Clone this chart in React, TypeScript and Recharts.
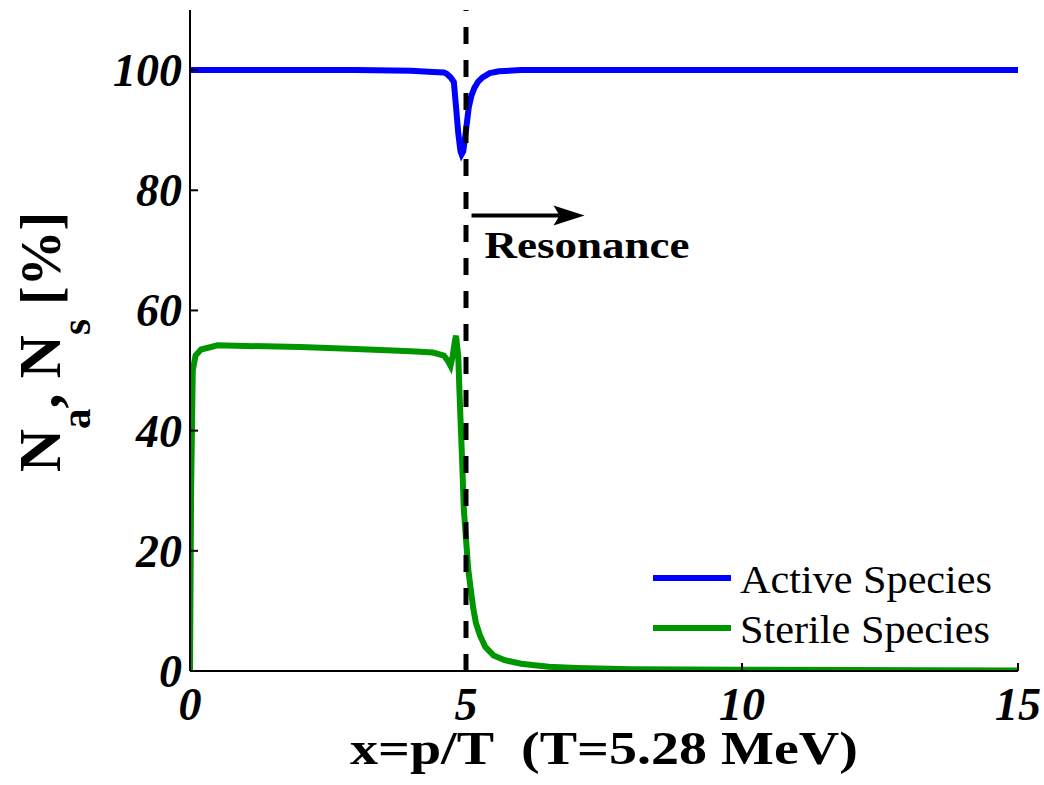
import React from 'react';
import {
  LineChart,
  Line,
  XAxis,
  YAxis,
  ReferenceLine,
  ReferenceDot,
  Legend,
} from 'recharts';

// values
const xTicks = [0, 5, 10, 15];
const yTicks = [0, 20, 40, 60, 80, 100];

const activeX = [0, 1, 2, 3, 4, 4.4, 4.6, 4.65, 4.72, 4.78, 4.82, 4.86, 4.9, 4.92, 4.95, 4.98, 5.02, 5.05, 5.1, 5.15, 5.22, 5.3, 5.43, 5.6, 6, 7, 10, 15];
const activeY = [100, 100, 100, 100, 99.9, 99.7, 99.6, 99.4, 98.8, 98.0, 93.8, 89.5, 86.5, 86, 86.5, 88.5, 91.5, 93.8, 95.8, 97.0, 98.1, 98.8, 99.5, 99.8, 100, 100, 100, 100];

const sterileX = [0, 0.02, 0.05, 0.1, 0.2, 0.5, 1, 2, 3, 4, 4.4, 4.6, 4.68, 4.72, 4.76, 4.8, 4.82, 4.86, 4.88, 4.9, 4.93, 4.96, 5.0, 5.04, 5.08, 5.13, 5.18, 5.25, 5.35, 5.5, 5.7, 6.0, 6.2, 6.5, 7, 8, 10, 12, 15];
const sterileY = [0, 30, 50, 52.5, 53.5, 54.2, 54.1, 53.9, 53.6, 53.2, 53.0, 52.5, 51.5, 50.8, 52.5, 55, 55.8, 52.3, 47, 42, 35, 27, 22, 17, 14, 10.5, 8, 6, 4, 2.6, 1.8, 1.2, 1.0, 0.7, 0.5, 0.3, 0.2, 0.15, 0.1];

const resonanceX = 5;
const arrowStart = { x: 5.1, y: 75.8 };

const activeData = activeX.map((x, i) => ({ x, y: activeY[i] }));
const sterileData = sterileX.map((x, i) => ({ x, y: sterileY[i] }));

const SERIF = '"Liberation Serif", "Times New Roman", serif';
const TICK_FONT = { fontFamily: SERIF, fontWeight: 'bold', fontStyle: 'italic', fontSize: 46 };

const BottomTick = (props: any) => {
  const { x, y, payload } = props;
  return (
    <g>
      <line x1={x} x2={x} y1={y} y2={y - 8} stroke="#000" strokeWidth={2} />
      <text x={x} y={y + 49} textAnchor="middle" fill="#000" {...TICK_FONT}>
        {payload.value}
      </text>
    </g>
  );
};

const TopTick = (props: any) => {
  const { x, y } = props;
  return <line x1={x} x2={x} y1={y} y2={y + 8} stroke="#000" strokeWidth={2} />;
};

const LeftTick = (props: any) => {
  const { x, y, payload } = props;
  return (
    <g>
      <line x1={x} x2={x + 8} y1={y} y2={y} stroke="#000" strokeWidth={2} />
      <text x={x - 8} y={y + 16} textAnchor="end" fill="#000" {...TICK_FONT}>
        {payload.value}
      </text>
    </g>
  );
};

const RightTick = (props: any) => {
  const { x, y } = props;
  return <line x1={x} x2={x - 8} y1={y} y2={y} stroke="#000" strokeWidth={2} />;
};

const XLabel = () => (
  <text
    x={604}
    y={764}
    textAnchor="middle"
    fill="#000"
    fontFamily={SERIF}
    fontWeight="bold"
    fontSize={46}
    textLength={508}
    lengthAdjust="spacingAndGlyphs"
    style={{ whiteSpace: 'pre' }}
  >
    {'x=p/T  (T=5.28 MeV)'}
  </text>
);

const YLabel = () => (
  <text
    x={60}
    y={342}
    transform="rotate(-90, 60, 342)"
    textAnchor="middle"
    fill="#000"
    fontFamily={SERIF}
    fontWeight="bold"
    style={{ whiteSpace: 'pre' }}
  >
    <tspan fontSize={60}>N</tspan>
    <tspan fontSize={41} dy={30}>a</tspan>
    <tspan fontSize={60} dy={-30}>{', N'}</tspan>
    <tspan fontSize={41} dy={30}>s</tspan>
    <tspan fontSize={56} dy={-30}>{' [%]'}</tspan>
  </text>
);

const ResonanceMark = (props: any) => {
  const { cx, cy } = props;
  return (
    <g>
      <line x1={cx} x2={cx + 88} y1={cy} y2={cy} stroke="#000" strokeWidth={4} />
      <polygon
        points={`${cx + 113},${cy} ${cx + 82},${cy - 10} ${cx + 88},${cy} ${cx + 82},${cy + 10}`}
        fill="#000"
      />
      <text
        x={cx + 13}
        y={cy + 42}
        fill="#000"
        fontFamily={SERIF}
        fontWeight="bold"
        fontSize={38}
        textLength={205}
        lengthAdjust="spacingAndGlyphs"
      >
        Resonance
      </text>
    </g>
  );
};

const LegendBox = (props: any) => {
  const items = props.payload || [];
  return (
    <svg width={360} height={110}>
      {items.map((item: any, i: number) => (
        <g key={item.value}>
          <line x1={3} x2={81} y1={28 + i * 50} y2={28 + i * 50} stroke={item.color} strokeWidth={6} />
          <text
            x={90}
            y={43 + i * 50}
            fill="#000"
            fontFamily={SERIF}
            fontSize={40}
            textLength={i === 0 ? 252 : 250}
            lengthAdjust="spacingAndGlyphs"
          >
            {item.value}
          </text>
        </g>
      ))}
    </svg>
  );
};

export default function App() {
  return (
    <div style={{ position: 'absolute', left: 0, top: 0, width: 1044, height: 785, background: '#fff' }}>
      <LineChart width={1044} height={785} margin={{ top: 10, right: 26, bottom: 54, left: 60 }}>
        <XAxis
          xAxisId="bottom"
          type="number"
          dataKey="x"
          domain={[0, 15]}
          ticks={xTicks}
          height={60}
          tickSize={0}
          tickMargin={0}
          tickLine={false}
          axisLine={{ stroke: '#000', strokeWidth: 2 }}
          tick={<BottomTick />}
          label={<XLabel />}
          allowDataOverflow
        />
        <XAxis
          xAxisId="top"
          orientation="top"
          type="number"
          dataKey="x"
          domain={[0, 15]}
          ticks={xTicks}
          height={0}
          tickSize={0}
          tickMargin={0}
          tickLine={false}
          axisLine={{ stroke: '#000', strokeWidth: 2 }}
          tick={<TopTick />}
          allowDataOverflow
        />
        <YAxis
          yAxisId="left"
          type="number"
          domain={[0, 110]}
          ticks={yTicks}
          width={130}
          tickSize={0}
          tickMargin={0}
          tickLine={false}
          axisLine={{ stroke: '#000', strokeWidth: 2 }}
          tick={<LeftTick />}
          label={<YLabel />}
          allowDataOverflow
        />
        <YAxis
          yAxisId="right"
          orientation="right"
          type="number"
          domain={[0, 110]}
          ticks={yTicks}
          width={0}
          tickSize={0}
          tickMargin={0}
          tickLine={false}
          axisLine={{ stroke: '#000', strokeWidth: 2 }}
          tick={<RightTick />}
          allowDataOverflow
        />
        <Line
          xAxisId="bottom"
          yAxisId="left"
          data={activeData}
          dataKey="y"
          name="Active Species"
          type="linear"
          stroke="#0000ff"
          strokeWidth={6}
          dot={false}
          isAnimationActive={false}
        />
        <Line
          xAxisId="bottom"
          yAxisId="left"
          data={sterileData}
          dataKey="y"
          name="Sterile Species"
          type="linear"
          stroke="#009600"
          strokeWidth={6}
          dot={false}
          isAnimationActive={false}
        />
        <ReferenceLine
          xAxisId="bottom"
          yAxisId="left"
          x={resonanceX}
          stroke="#000"
          strokeWidth={5}
          strokeDasharray="17 16"
        />
        <ReferenceDot
          xAxisId="bottom"
          yAxisId="left"
          x={arrowStart.x}
          y={arrowStart.y}
          shape={<ResonanceMark />}
        />
        <Legend
          layout="vertical"
          align="center"
          verticalAlign="middle"
          content={<LegendBox />}
          wrapperStyle={{ position: 'absolute', left: 650, top: 550, width: 360, height: 110 }}
        />
      </LineChart>
    </div>
  );
}
